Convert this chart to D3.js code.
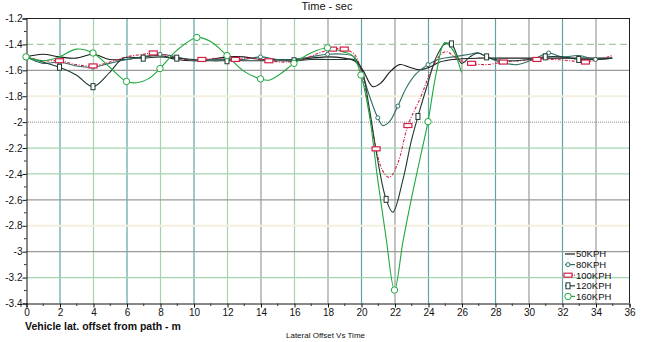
<!DOCTYPE html>
<html>
<head>
<meta charset="utf-8">
<script src="https://cdn.jsdelivr.net/npm/d3@7"></script>
<style>
  html, body { margin: 0; padding: 0; background: #fff; }
  svg { display: block; font-family: "Liberation Sans", Arial, sans-serif; }
</style>
</head>
<body>
<svg id="chart" width="650" height="342"></svg>
<script>
// Lateral offset (m) against time (s) for five vehicle speeds
const xTicks = [0, 2, 4, 6, 8, 10, 12, 14, 16, 18, 20, 22, 24, 26, 28, 30, 32, 34, 36];
const yTicks = [-1.2, -1.4, -1.6, -1.8, -2, -2.2, -2.4, -2.6, -2.8, -3, -3.2, -3.4];
const seriesNames = ["50KPH", "80KPH", "100KPH", "120KPH", "160KPH"];

const kph50 = [[0,-1.5],[1,-1.48],[2,-1.5],[3,-1.51],[4,-1.48],[5,-1.52],[6,-1.52],[7,-1.5],[8,-1.49],[9,-1.52],[10,-1.53],[11,-1.52],[12,-1.5],[13,-1.5],[14,-1.52],[15,-1.52],[16,-1.52],[17,-1.51],[18,-1.5],[19,-1.51],[19.6,-1.53],[20.1,-1.6],[20.7,-1.73],[21.2,-1.7],[21.7,-1.62],[22.3,-1.56],[22.9,-1.58],[23.5,-1.6],[24.1,-1.58],[24.7,-1.54],[25.5,-1.52],[27,-1.51],[29,-1.51],[31,-1.51],[33,-1.51],[35,-1.51]];
const kph80 = [[0,-1.5],[1,-1.55],[2,-1.54],[3,-1.57],[4,-1.58],[5,-1.55],[6,-1.52],[7,-1.5],[8,-1.48],[9,-1.5],[10,-1.53],[11,-1.52],[12,-1.52],[13,-1.52],[14,-1.5],[15,-1.52],[16,-1.52],[17,-1.5],[18,-1.48],[19,-1.48],[19.6,-1.5],[20,-1.6],[20.5,-1.8],[21,-1.97],[21.3,-2.03],[21.7,-2.0],[22.2,-1.88],[22.7,-1.74],[23.3,-1.63],[24,-1.56],[24.6,-1.52],[25.5,-1.5],[26.5,-1.48],[27,-1.47],[27.5,-1.5],[28.3,-1.54],[29.3,-1.56],[30.3,-1.52],[31.2,-1.47],[32,-1.5],[33,-1.49],[34,-1.52],[35,-1.51]];
const kph100 = [[0,-1.5],[1,-1.53],[2,-1.53],[3,-1.56],[4,-1.57],[5,-1.54],[6,-1.5],[7,-1.48],[7.6,-1.47],[8.5,-1.49],[9.5,-1.52],[10.5,-1.52],[11.5,-1.51],[12.5,-1.52],[13.5,-1.51],[14.5,-1.53],[15.5,-1.54],[16.5,-1.52],[17.5,-1.47],[18.3,-1.44],[19,-1.44],[19.6,-1.48],[20,-1.6],[20.5,-1.93],[20.9,-2.21],[21.3,-2.38],[21.7,-2.43],[22.2,-2.32],[22.8,-2.03],[23.6,-1.8],[24.1,-1.63],[24.7,-1.49],[25.1,-1.46],[25.8,-1.52],[26.6,-1.55],[27.5,-1.56],[28.5,-1.54],[29.5,-1.53],[30.5,-1.52],[31.5,-1.52],[32.5,-1.53],[33.4,-1.54],[34.2,-1.52],[35,-1.49]];
const kph120 = [[0,-1.5],[1,-1.54],[2,-1.58],[3,-1.64],[4,-1.73],[5,-1.62],[5.8,-1.51],[7,-1.51],[8,-1.5],[9,-1.51],[10,-1.52],[11,-1.53],[12,-1.53],[13,-1.53],[14,-1.53],[15,-1.53],[16,-1.53],[17,-1.52],[18,-1.52],[19,-1.52],[19.6,-1.52],[20,-1.58],[20.5,-1.9],[21,-2.3],[21.5,-2.6],[21.9,-2.7],[22.5,-2.45],[23,-2.15],[23.4,-1.96],[24,-1.7],[24.5,-1.5],[25,-1.4],[25.4,-1.4],[26,-1.55],[26.5,-1.5],[27,-1.47],[27.5,-1.5],[28,-1.52],[29,-1.53],[30,-1.52],[31,-1.5],[32,-1.5],[33,-1.52],[34,-1.52],[35,-1.51]];
const kph160 = [[0,-1.5],[1,-1.53],[2,-1.5],[3,-1.44],[4,-1.47],[5,-1.58],[6,-1.69],[6.6,-1.7],[7.3,-1.67],[8,-1.59],[9,-1.45],[10.2,-1.35],[11,-1.38],[12,-1.49],[13,-1.61],[14,-1.67],[14.5,-1.68],[15.2,-1.63],[16,-1.55],[17,-1.47],[18,-1.43],[18.9,-1.46],[19.5,-1.49],[20,-1.64],[20.5,-1.95],[21,-2.45],[21.5,-2.9],[22,-3.3],[22.5,-2.93],[23,-2.6],[23.5,-2.3],[24,-2.0],[24.5,-1.62],[25,-1.39],[25.5,-1.45],[26,-1.62]];

const marks80 = [2, 4, 8, 12, 14, 18, 21, 22.2, 24, 28.3, 31.2, 34];
const marks100 = [2, 4, 7.6, 10.5, 12.5, 14.5, 18.3, 19, 20.9, 22.8, 26.6, 28.5, 30.5, 33.4];
const marks120 = [2, 4, 7, 9, 12, 16, 21.5, 23.4, 25.4, 27.5, 31, 33];
const marks160 = [0, 4, 6, 8, 10.2, 12, 14, 16, 18, 20, 22, 24];

const svg = d3.select("#chart");
const x = d3.scaleLinear().domain([0, 36]).range([26, 629]);
const y = d3.scaleLinear().domain([-3.4, -1.2]).range([303, 18]);

// Vertical grid lines, each with its own tint
const vColor = {2:"#5fa3a3",4:"#a3d4b0",6:"#5fa3a3",8:"#a3d4b0",10:"#5fa3a3",12:"#a3d4b0",14:"#9a9a9a",16:"#a3d4b0",18:"#9a9a9a",20:"#5fa3a3",22:"#9a9a9a",24:"#5fa3a3",26:"#9a9a9a",28:"#5fa3a3",30:"#9a9a9a",32:"#5fa3a3",34:"#9a9a9a"};
svg.append("g").selectAll("line").data(xTicks.filter(d => d > 0 && d < 36)).join("line")
  .attr("x1", d => x(d) + 0.5).attr("x2", d => x(d) + 0.5)
  .attr("y1", y(-1.2)).attr("y2", y(-3.4))
  .attr("stroke", d => vColor[d]).attr("stroke-width", 1.2);

// Horizontal grid lines
const hStyle = {
  "-1.4": {c:"#a9c9a4", dash:"7,4", w:1.2},
  "-1.6": {c:"#9a9a9a", dash:null, w:1.2},
  "-1.8": {c:"#f3f0df", dash:null, w:2},
  "-2": {c:"#8a8a8a", dash:"1,1", w:1},
  "-2.2": {c:"#a3d4b0", dash:null, w:1.2},
  "-2.4": {c:"#a3d4b0", dash:null, w:1.2},
  "-2.6": {c:"#9a9a9a", dash:null, w:1.2},
  "-2.8": {c:"#f3f0df", dash:null, w:2},
  "-3": {c:"#9a9a9a", dash:null, w:1.2},
  "-3.2": {c:"#a3d4b0", dash:null, w:1.2}
};
svg.append("g").selectAll("line").data(yTicks.filter(d => d < -1.2 && d > -3.4)).join("line")
  .attr("x1", x(0)).attr("x2", x(36))
  .attr("y1", d => y(d) + 0.5).attr("y2", d => y(d) + 0.5)
  .attr("stroke", d => hStyle[String(d)].c)
  .attr("stroke-width", d => hStyle[String(d)].w)
  .attr("stroke-dasharray", d => hStyle[String(d)].dash);

// Frame: top and right borders
svg.append("line").attr("x1", x(0)).attr("x2", x(36)).attr("y1", y(-1.2) + 0.5).attr("y2", y(-1.2) + 0.5).attr("stroke", "#222");
svg.append("line").attr("x1", x(36) + 0.5).attr("x2", x(36) + 0.5).attr("y1", y(-1.2)).attr("y2", y(-3.4)).attr("stroke", "#222");

// Axes
const xAxis = d3.axisBottom(x).tickValues(xTicks).tickSize(4).tickFormat(d3.format("d"));
const gx = svg.append("g").attr("transform", `translate(0.5,${y(-3.4) + 0.5})`).call(xAxis);
gx.select(".domain").attr("stroke", "#111");
gx.selectAll(".tick line").attr("stroke", "#111");
gx.selectAll("text").attr("font-size", 10).attr("fill", "#111").attr("dy", "0.55em")
  .attr("font-family", "Liberation Sans, Arial, sans-serif");
const xMinor = d3.range(1, 36, 2);
gx.selectAll(".minor").data(xMinor).join("line").attr("class", "minor")
  .attr("x1", d => x(d)).attr("x2", d => x(d)).attr("y1", 0).attr("y2", 2.5).attr("stroke", "#333");

const yAxis = d3.axisLeft(y).tickValues(yTicks).tickSize(4).tickFormat(d => String(d));
const gy = svg.append("g").attr("transform", `translate(${x(0) + 0.5},0.5)`).call(yAxis);
gy.select(".domain").attr("stroke", "#111");
gy.selectAll(".tick line").attr("stroke", "#111");
gy.selectAll("text").attr("font-size", 10).attr("fill", "#111").attr("x", -4)
  .attr("font-family", "Liberation Sans, Arial, sans-serif");
const yMinor = d3.range(-1.3, -3.4, -0.2);
gy.selectAll(".minor").data(yMinor).join("line").attr("class", "minor")
  .attr("x1", -2.5).attr("x2", 0).attr("y1", d => y(d)).attr("y2", d => y(d)).attr("stroke", "#333");

// Series
const series = [
  {name: seriesNames[0], data: kph50, color: "#1b1b1b", dash: null, marks: [], shape: "none"},
  {name: seriesNames[1], data: kph80, color: "#2e6e68", dash: null, marks: marks80, shape: "smallcircle"},
  {name: seriesNames[2], data: kph100, color: "#d41f45", dash: "3,1.5,1,1.5", marks: marks100, shape: "rect"},
  {name: seriesNames[3], data: kph120, color: "#1f3a33", dash: null, marks: marks120, shape: "tallrect"},
  {name: seriesNames[4], data: kph160, color: "#1fa83e", dash: null, marks: marks160, shape: "circle"}
];

const line = d3.line().x(d => x(d[0])).y(d => y(d[1])).curve(d3.curveCatmullRom.alpha(0.5));

function drawMarker(g, shape, cx, cy, color) {
  if (shape === "circle") {
    g.append("circle").attr("cx", cx).attr("cy", cy).attr("r", 3.2).attr("fill", "#fff").attr("stroke", color).attr("stroke-width", 1);
  } else if (shape === "smallcircle") {
    g.append("circle").attr("cx", cx).attr("cy", cy).attr("r", 2).attr("fill", "#fff").attr("stroke", color).attr("stroke-width", 1);
  } else if (shape === "rect") {
    g.append("rect").attr("x", cx - 4).attr("y", cy - 2).attr("width", 8).attr("height", 4).attr("fill", "#fff").attr("stroke", color).attr("stroke-width", 1.2);
  } else if (shape === "tallrect") {
    g.append("rect").attr("x", cx - 2).attr("y", cy - 3).attr("width", 4).attr("height", 6).attr("fill", "#fff").attr("stroke", color).attr("stroke-width", 1);
  }
}

const plot = svg.append("g");
series.forEach(s => {
  plot.append("path").datum(s.data).attr("d", line)
    .attr("fill", "none").attr("stroke", s.color).attr("stroke-width", 1.1)
    .attr("stroke-dasharray", s.dash);
});
series.forEach(s => {
  const g = plot.append("g");
  s.marks.forEach(mx => {
    const pt = s.data.find(d => d[0] === mx);
    if (pt) drawMarker(g, s.shape, x(pt[0]), y(pt[1]), s.color);
  });
});

// Legend
const legend = svg.append("g");
series.forEach((s, i) => {
  const ly = 254 + i * 10.6;
  legend.append("line").attr("x1", 565).attr("x2", 575).attr("y1", ly).attr("y2", ly)
    .attr("stroke", s.color).attr("stroke-width", 1.2).attr("stroke-dasharray", s.dash ? "2,1" : null);
  if (s.shape !== "none") {
    const g = legend.append("g");
    drawMarker(g, s.shape, 568, ly, s.color);
  }
  legend.append("text").attr("x", 576).attr("y", ly).attr("dy", "0.36em")
    .attr("font-size", 9.5).attr("fill", "#111").text(s.name);
});

// Titles
svg.append("text").attr("x", 327).attr("y", 10).attr("text-anchor", "middle")
  .attr("font-size", 11).attr("fill", "#111").text("Time - sec");
svg.append("text").attr("x", 25).attr("y", 330)
  .attr("font-size", 10.5).attr("font-weight", "bold").attr("fill", "#111")
  .text("Vehicle lat. offset from path - m");
svg.append("text").attr("x", 286).attr("y", 338)
  .attr("font-size", 8).attr("fill", "#111").text("Lateral Offset Vs Time");
</script>
</body>
</html>
